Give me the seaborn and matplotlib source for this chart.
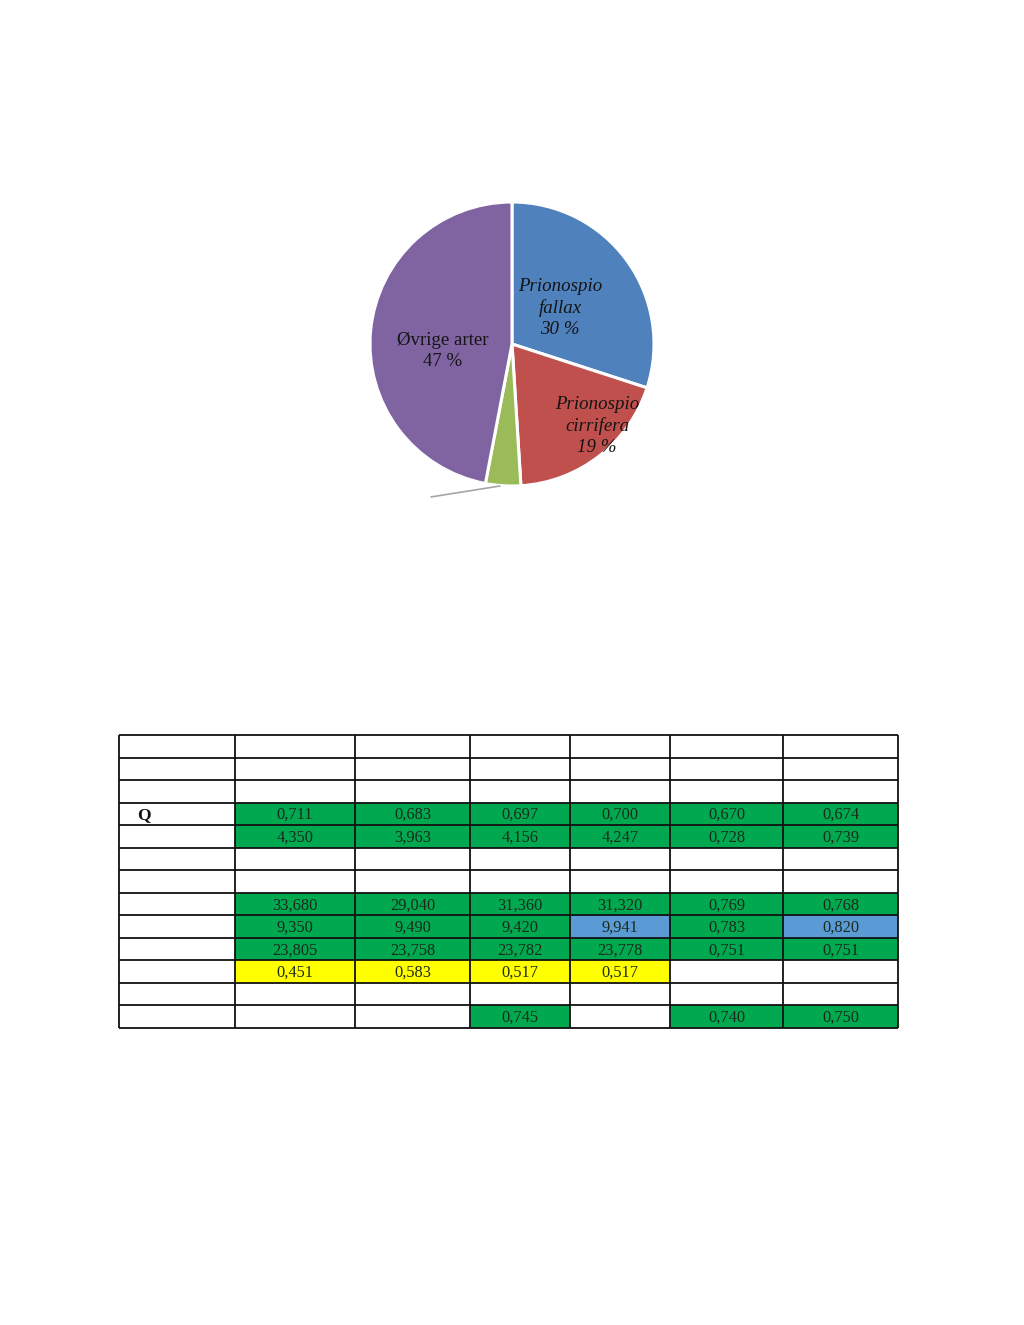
import numpy as np
import matplotlib
matplotlib.use("Agg")
import matplotlib.pyplot as plt
from matplotlib.colors import ListedColormap
from matplotlib.patches import Circle
import seaborn as sns

# ---------------- data ----------------
pie_labels = ["Prionospio\nfallax", "Prionospio\ncirrifera", "", "Øvrige arter"]
pie_values = [30, 19, 4, 47]
pie_italic = [True, True, False, False]
pie_colors = ["#4F81BD", "#C0504D", "#9BBB59", "#8064A2"]

row_labels = ["", "", "", "Q", "", "", "", "", "", "", "", "", ""]
table_text = [
    ["", "", "", "", "", ""],
    ["", "", "", "", "", ""],
    ["", "", "", "", "", ""],
    ["0,711", "0,683", "0,697", "0,700", "0,670", "0,674"],
    ["4,350", "3,963", "4,156", "4,247", "0,728", "0,739"],
    ["", "", "", "", "", ""],
    ["", "", "", "", "", ""],
    ["33,680", "29,040", "31,360", "31,320", "0,769", "0,768"],
    ["9,350", "9,490", "9,420", "9,941", "0,783", "0,820"],
    ["23,805", "23,758", "23,782", "23,778", "0,751", "0,751"],
    ["0,451", "0,583", "0,517", "0,517", "", ""],
    ["", "", "", "", "", ""],
    ["", "", "0,745", "", "0,740", "0,750"],
]
# 0 white, 1 green, 2 blue, 3 yellow
table_class = [
    [0, 0, 0, 0, 0, 0],
    [0, 0, 0, 0, 0, 0],
    [0, 0, 0, 0, 0, 0],
    [1, 1, 1, 1, 1, 1],
    [1, 1, 1, 1, 1, 1],
    [0, 0, 0, 0, 0, 0],
    [0, 0, 0, 0, 0, 0],
    [1, 1, 1, 1, 1, 1],
    [1, 1, 1, 2, 1, 2],
    [1, 1, 1, 1, 1, 1],
    [3, 3, 3, 3, 0, 0],
    [0, 0, 0, 0, 0, 0],
    [0, 0, 1, 0, 1, 1],
]
class_colors = ["#FFFFFF", "#00A84F", "#5B9BD5", "#FFFF00"]

# ---------------- style ----------------
sns.set_theme(style="white")
plt.rcParams["font.family"] = ["Liberation Serif", "DejaVu Serif"]

W, H = 1024, 1325
fig = plt.figure(figsize=(W / 100, H / 100), dpi=100)
fig.patch.set_facecolor("white")

# ---------------- pie ----------------
cx, cy, R, half = 512, 344, 142, 150
ax = fig.add_axes([(cx - half) / W, (H - cy - half) / H, 2 * half / W, 2 * half / H])
wedges, _ = ax.pie(pie_values, colors=pie_colors, startangle=90, counterclock=False,
                   radius=1.0, wedgeprops=dict(edgecolor="white", linewidth=2.2))
lim = half / R
ax.set_xlim(-lim, lim)
ax.set_ylim(-lim, lim)
ax.set_aspect("equal")
ax.axis("off")

label_pos = [(0.34, 0.255), (0.60, -0.58), (0, 0), (-0.49, -0.05)]
for lab, val, it, (lx, ly) in zip(pie_labels, pie_values, pie_italic, label_pos):
    if not lab:
        continue
    t = ax.text(lx, ly, f"{lab}\n{val} %", ha="center", va="center", fontsize=13.6,
                style="italic" if it else "normal", color="#141414", linespacing=1.3)
    t.set_clip_path(Circle((0, 0), 1.0, transform=ax.transData))

# leader line for the small green slice
ax.plot([-0.57, -0.085], [-1.077, -1.0], color="#A6A6A6", lw=1.2, clip_on=False)

# ---------------- table ----------------
col_edges = np.array([0, 116, 236, 351, 451, 551, 664, 779])
n_rows = len(table_text)
tx0, ty0, tx1, ty1 = 119, 735, 898, 1028
tax = fig.add_axes([tx0 / W, (H - ty1) / H, (tx1 - tx0) / W, (ty1 - ty0) / H])
row_edges = np.arange(n_rows + 1)

full_class = np.array([[0] + r for r in table_class])
cmap = ListedColormap(class_colors)
tax.pcolormesh(col_edges, row_edges, full_class, cmap=cmap, vmin=-0.5, vmax=3.5,
               shading="flat")
tax.set_xlim(col_edges[0], col_edges[-1])
tax.set_ylim(n_rows, 0)
tax.axis("off")

for x in col_edges:
    tax.vlines(x, 0, n_rows, color="#111111", lw=1.3, clip_on=False)
for y in row_edges:
    tax.hlines(y, col_edges[0], col_edges[-1], color="#111111", lw=1.3, clip_on=False)

centers = (col_edges[:-1] + col_edges[1:]) / 2
for i in range(n_rows):
    if row_labels[i]:
        tax.text(col_edges[0] + 18, i + 0.55, row_labels[i], ha="left", va="center",
                 fontsize=12.5, fontweight="bold", color="#111111")
    for j, s in enumerate(table_text[i]):
        if s:
            tax.text(centers[j + 1], i + 0.55, s, ha="center", va="center",
                     fontsize=11.8, color="#1b2a1b")

fig.savefig("out.png", dpi=100, facecolor="white")
